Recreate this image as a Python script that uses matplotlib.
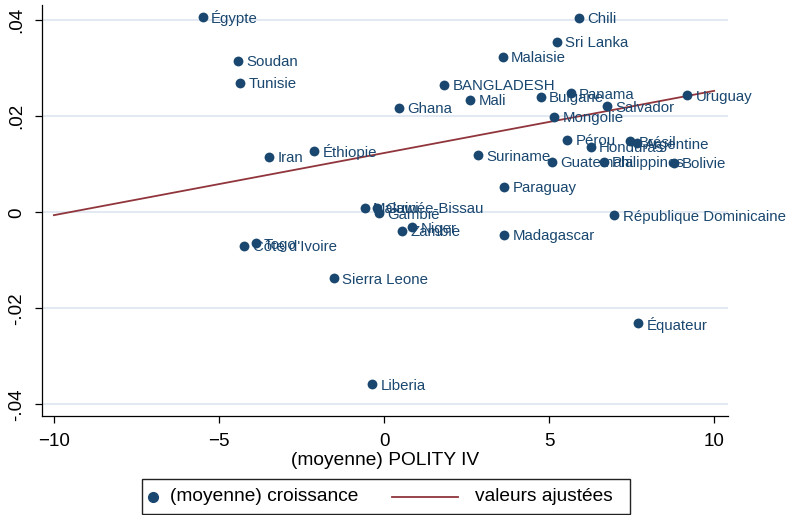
import matplotlib
matplotlib.use('Agg')
import matplotlib.pyplot as plt
from matplotlib.lines import Line2D
from matplotlib.patches import Rectangle

plt.rcParams['font.family'] = ['Liberation Sans', 'DejaVu Sans']

# valeurs
pays = ['Égypte', 'Chili', 'Sri Lanka', 'Malaisie', 'Soudan', 'Tunisie',
        'BANGLADESH', 'Mali', 'Ghana', 'Bulgarie', 'Panama', 'Salvador',
        'Uruguay', 'Mongolie', 'Pérou', 'Brésil', 'Argentine', 'Honduras',
        'Guatemala', 'Philippines', 'Bolivie', 'Iran', 'Éthiopie', 'Suriname',
        'Paraguay', 'République Dominicaine', 'Madagascar', 'Malawi',
        'Guinée-Bissau', 'Gambie', 'Niger', 'Zambie', 'Togo', "Côte d'Ivoire",
        'Sierra Leone', 'Équateur', 'Liberia']
polity = [-5.49, 5.90, 5.23, 3.59, -4.43, -4.36,
          1.83, 2.61, 0.45, 4.75, 5.66, 6.75,
          9.19, 5.15, 5.55, 7.45, 7.65, 6.26,
          5.09, 6.65, 8.78, -3.48, -2.11, 2.86,
          3.64, 6.98, 3.64, -0.58,
          -0.21, -0.14, 0.85, 0.56, -3.89, -4.23,
          -1.52, 7.70, -0.36]
croissance = [0.0407, 0.0405, 0.0355, 0.0324, 0.0316, 0.0270,
              0.0266, 0.0234, 0.0218, 0.0241, 0.0248, 0.0221,
              0.0244, 0.0199, 0.0151, 0.0148, 0.0144, 0.0137,
              0.0105, 0.0105, 0.0103, 0.0116, 0.0128, 0.0119,
              0.0053, -0.0006, -0.0047, 0.0010,
              0.0010, -0.0002, -0.0031, -0.0038, -0.0065, -0.0070,
              -0.0137, -0.0231, -0.0358]

# droite ajustée
fit_x = [-10, 10]
fit_y = [-0.0006, 0.0253]

yticks = [-0.04, -0.02, 0, 0.02, 0.04]
ylabels = ['-.04', '-.02', '0', '.02', '.04']
xticks = [-10, -5, 0, 5, 10]

navy = '#1a476f'
maroon = '#90353b'
W, H = 789, 515

fig = plt.figure(figsize=(W / 100, H / 100), dpi=100)
ax = fig.add_axes([42 / W, 1 - 416 / H, (728 - 42) / W, (416 - 5) / H])
ax.set_xlim(-10.36, 10.42)
ax.set_ylim(-0.04244, 0.04319)

ax.set_yticks(yticks)
ax.set_yticklabels(ylabels, rotation=90, va='center')
ax.set_xticks(xticks)
ax.grid(axis='y', color='#e2e9f2', lw=1.4)
ax.set_axisbelow(True)
for s in ['top', 'right']:
    ax.spines[s].set_visible(False)
for s in ['left', 'bottom']:
    ax.spines[s].set_linewidth(0.9)
ax.tick_params(direction='out', length=5, width=0.9, labelsize=13.5)
ax.tick_params(axis='y', pad=7)
ax.tick_params(axis='x', pad=7)

ax.plot(fit_x, fit_y, color=maroon, lw=1.3, zorder=2)
ax.scatter(polity, croissance, s=50, color=navy, linewidths=0, zorder=3)
for nom, x, y in zip(pays, polity, croissance):
    ax.annotate(nom, (x, y), xytext=(6, 0), textcoords='offset points',
                ha='left', va='center_baseline', fontsize=10.8, color=navy)

ax.set_xlabel('(moyenne) POLITY IV', fontsize=13.8, labelpad=2)

# légende
ly = 1 - 496.5 / H
fig.add_artist(Rectangle((142 / W, 1 - 514 / H), (630 - 142) / W, (514 - 479) / H,
                         transform=fig.transFigure, fill=False,
                         edgecolor='#222222', lw=1))
fig.add_artist(Line2D([153 / W], [ly], marker='o', ms=7, ls='none',
                      color=navy, transform=fig.transFigure))
fig.text(170 / W, ly, '(moyenne) croissance', va='center', fontsize=13.8)
fig.add_artist(Line2D([392 / W, 458 / W], [ly, ly], color=maroon, lw=1.3,
                      transform=fig.transFigure))
fig.text(475 / W, ly, 'valeurs ajustées', va='center', fontsize=13.8)

fig.savefig('out.png', dpi=100)
